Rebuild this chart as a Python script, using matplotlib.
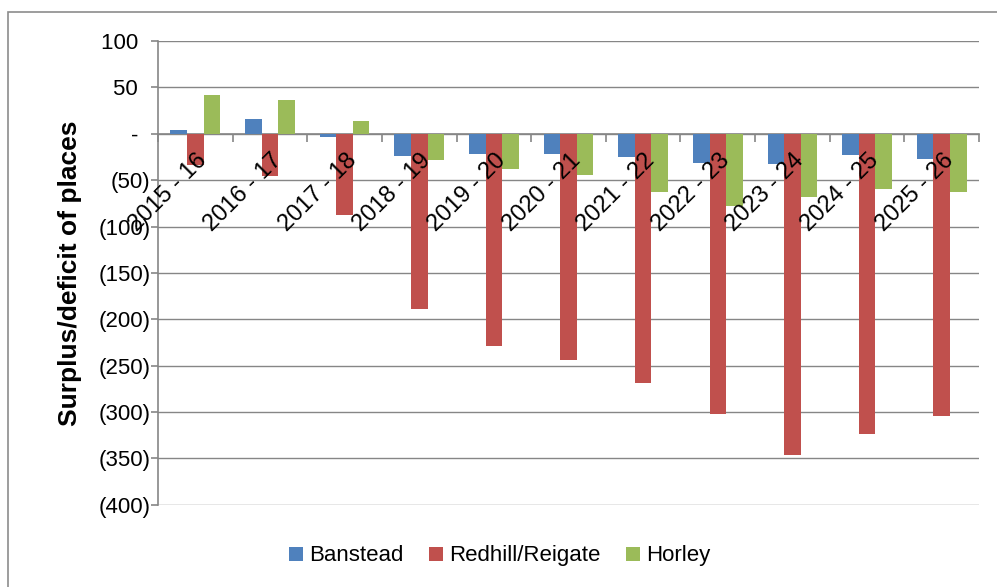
#!/bin/python

import numpy as np
import matplotlib.pyplot as plt
from matplotlib.patches import Rectangle
from matplotlib.ticker import FuncFormatter, FixedLocator
from matplotlib.transforms import ScaledTranslation

plt.rcParams['font.family'] = ['Liberation Sans', 'DejaVu Sans']

years = ["2015 - 16", "2016 - 17", "2017 - 18", "2018 - 19", "2019 - 20",
         "2020 - 21", "2021 - 22", "2022 - 23", "2023 - 24", "2024 - 25",
         "2025 - 26"]
banstead = [4, 16, -3, -24, -22, -22, -25, -31, -32, -23, -27]
redhill = [-34, -45, -88, -189, -229, -244, -269, -302, -346, -324, -304]
horley = [42, 36, 14, -28, -38, -44, -63, -78, -68, -59, -63]

BLUE = "#4F81BD"
RED = "#C0504D"
GREEN = "#9BBB59"
GRID = "#868686"


def places_fmt(v, pos):
    """Accounting style: negatives in brackets, zero as a dash."""
    if abs(v) < 1e-9:
        return "-  "
    if v < 0:
        return "(%d)" % abs(v)
    return "%d  " % v


def plot_places():
    fig = plt.figure(figsize=(9.97, 5.87), dpi=100)
    ax = fig.add_axes([0.1585, 0.140, 0.8235, 0.790])

    # outer chart frame (only left/top edges fall inside the image)
    fig.patches.append(Rectangle((8 / 997, -0.1), 1.2, 1.1 - 12 / 587,
                                 transform=fig.transFigure, fill=False,
                                 edgecolor="#8C8C8C", linewidth=1.2))

    x = np.arange(len(years))
    w = 0.222
    ax.bar(x - w, banstead, w, color=BLUE, label="Banstead", zorder=3)
    ax.bar(x, redhill, w, color=RED, label="Redhill/Reigate", zorder=3)
    ax.bar(x + w, horley, w, color=GREEN, label="Horley", zorder=3)

    ax.set_xlim(-0.5, len(years) - 0.5)
    ax.set_ylim(-400, 100)
    ax.set_yticks(np.arange(-400, 101, 50))
    ax.yaxis.set_major_formatter(FuncFormatter(places_fmt))
    ax.yaxis.grid(True, color=GRID, linewidth=1.0)
    ax.set_axisbelow(True)
    # category labels sit on top of the bars
    ax.xaxis.set_zorder(5)

    for s in ("top", "right"):
        ax.spines[s].set_visible(False)
    ax.spines["left"].set_color(GRID)
    ax.spines["left"].set_linewidth(1.2)
    ax.spines["bottom"].set_color(GRID)
    ax.spines["bottom"].set_linewidth(1.2)
    ax.spines["bottom"].set_position(("data", 0))

    ax.tick_params(axis="y", length=5, width=1.2, color=GRID,
                   labelsize=16, pad=0.5)

    # category labels in the middle, boundary ticks between groups
    ax.set_xticks(x)
    ax.xaxis.set_minor_locator(FixedLocator(np.arange(len(years) + 1) - 0.5))
    ax.tick_params(axis="x", which="major", length=0, pad=11)
    ax.tick_params(axis="x", which="minor", length=6, width=1.2, color=GRID)
    ax.set_xticklabels(years, rotation=45, ha="right", va="top",
                       rotation_mode="anchor", fontsize=17)
    shift = ScaledTranslation(0.5 / 100, 0, fig.dpi_scale_trans)
    for lbl in ax.get_xticklabels():
        lbl.set_transform(lbl.get_transform() + shift)

    ax.set_ylabel("Surplus/deficit of places", fontsize=19,
                  fontweight="bold", labelpad=12)

    fig.legend(loc="center", bbox_to_anchor=(0.5015, 0.053), ncol=3,
               frameon=False, fontsize=16, handlelength=0.6,
               handleheight=0.6, handletextpad=0.3, columnspacing=1.15)

    fig.savefig("out.png", dpi=100)


if __name__ == "__main__":
    plot_places()
